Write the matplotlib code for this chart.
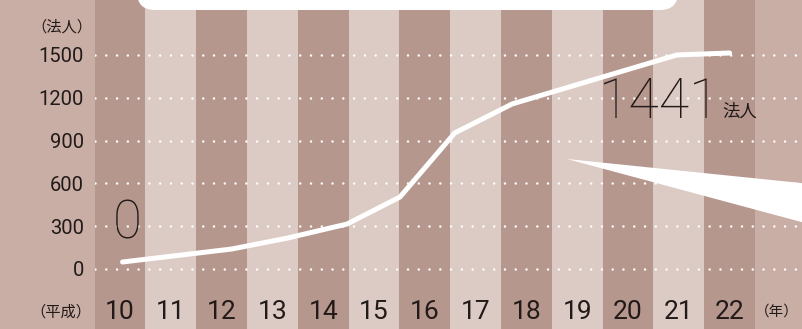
import matplotlib.pyplot as plt
from matplotlib.patches import FancyBboxPatch, Polygon
from matplotlib.transforms import IdentityTransform

# data (Heisei years, number of corporations)
years = [10, 11, 12, 13, 14, 15, 16, 17, 18, 19, 20, 21, 22]
line_x = [10.05, 12.2, 13.3, 14.47, 15.51, 16.59, 17.72, 20.96, 22.0]
line_y = [49, 140, 217, 315, 504, 953, 1156, 1499, 1513]
y_ticks = [0, 300, 600, 900, 1200, 1500]

bg = '#c9aea6'
dark = '#b5978e'
light = '#dccbc5'
txt = '#221a18'
num_font = ['Roboto', 'DejaVu Sans']
jp_font = ['Noto Sans CJK JP', 'DejaVu Sans']

W, H = 803, 329
fig = plt.figure(figsize=(W / 100, H / 100), dpi=100, facecolor=bg)
ax = fig.add_axes([94.6 / W, 0, (W - 94.6) / W, 1])
ax.set_facecolor(bg)

for i, yr in enumerate(years):
	ax.axvspan(yr - 0.5, yr + 0.5, color=dark if i % 2 == 0 else light, lw=0, zorder=0)

ax.set_xlim(9.5, 9.5 + (W - 94.6) / 50.8)
ax.set_ylim(-60 * 7.004, 269 * 7.004)

ax.set_yticks(y_ticks)
ax.set_yticklabels([str(v) for v in y_ticks], fontfamily=num_font, fontweight='normal', fontsize=14.5, color=txt)
ax.set_xticks(years)
ax.set_xticklabels([str(v) for v in years], fontfamily=num_font, fontweight='normal', fontsize=19, color=txt)
ax.tick_params(axis='y', length=0, pad=7.5)
ax.tick_params(axis='x', length=0, pad=-21)
for s in ax.spines.values():
	s.set_visible(False)

ax.grid(axis='y', color='white', lw=1.8, linestyle=(0, (0.01, 4.3)), dash_capstyle='round', zorder=1)
ax.grid(axis='x', visible=False)
ax.set_axisbelow(True)

ax.plot(line_x, line_y, color='white', lw=3.6, solid_capstyle='round', solid_joinstyle='round', zorder=3)

ax.text(10.14, 315, '0', fontfamily=num_font, fontweight='light', fontsize=38, color=txt, ha='center', va='center', zorder=4)
ax.text(20.63, 1163, '1441', fontfamily=num_font, fontweight='light', fontsize=40, color=txt, ha='center', va='center', zorder=4)
ax.text(22.2, 1100, '法人', fontfamily=jp_font, fontsize=12.5, color=txt, ha='center', va='center', zorder=4)

fig.text(62 / W, 1 - 27 / H, '（法人）', fontfamily=jp_font, fontsize=11, color=txt, ha='center', va='center')
fig.text(61 / W, 1 - 312 / H, '（平成）', fontfamily=jp_font, fontsize=11, color=txt, ha='center', va='center')
fig.text(777 / W, 1 - 312 / H, '（年）', fontfamily=jp_font, fontsize=10.5, color=txt, ha='center', va='center')

# white callout box at top and its pointer at right
box = FancyBboxPatch((137 + 18, H - 10 + 18), 541 - 36, 60, boxstyle='round,pad=18',
	fc='white', ec='none', transform=IdentityTransform(), zorder=5)
fig.patches.append(box)
wedge = Polygon([(567, H - 159), (820, H - 185), (820, H - 227)], closed=True,
	fc='white', ec='none', transform=IdentityTransform(), zorder=5)
fig.patches.append(wedge)

fig.savefig('out.png', dpi=100, facecolor=bg)
